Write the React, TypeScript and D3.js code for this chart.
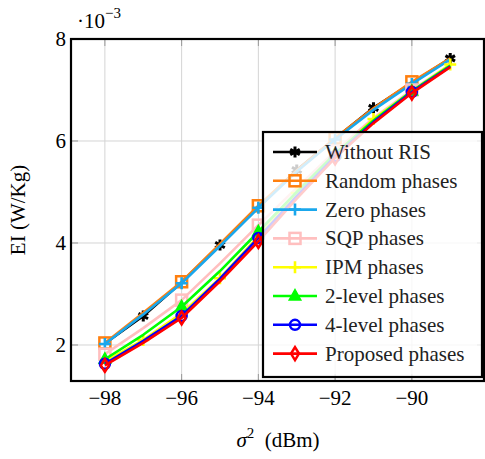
import React from "react";
import * as d3 from "d3";

// noise power sigma^2 (dBm)
const sigma = [-98, -97, -96, -95, -94, -93, -92, -91, -90, -89];

// EI values, in units of 1e-3 W/Kg
const withoutRIS = [2.03, 2.57, 3.23, 3.96, 4.7, 5.43, 6.05, 6.65, 7.14, 7.62];
const randomPhases = [2.04, 2.63, 3.24, 3.98, 4.73, 5.42, 6.06, 6.64, 7.16, 7.62];
const zeroPhases = [2.02, 2.6, 3.21, 3.94, 4.69, 5.4, 6.03, 6.61, 7.12, 7.6];
const sqpPhases = [1.82, 2.33, 2.88, 3.6, 4.35, 5.08, 5.8, 6.45, 7.0, 7.5];
const ipmPhases = [1.68, 2.1, 2.62, 3.31, 4.13, 4.98, 5.72, 6.43, 6.97, 7.5];
const level2Phases = [1.72, 2.2, 2.75, 3.45, 4.22, 5.0, 5.75, 6.4, 6.98, 7.48];
const level4Phases = [1.63, 2.08, 2.57, 3.3, 4.1, 4.92, 5.7, 6.37, 6.96, 7.46];
const proposedPhases = [1.6, 2.04, 2.53, 3.25, 4.03, 4.87, 5.67, 6.35, 6.94, 7.45];

const xTicks = [-98, -96, -94, -92, -90];
const yTicks = [2, 4, 6, 8];

type Mark = "asterisk" | "square" | "plus" | "triangle" | "circle" | "diamond";

const series: { name: string; values: number[]; color: string; mark: Mark; odd: boolean }[] = [
  { name: "Without RIS", values: withoutRIS, color: "#000000", mark: "asterisk", odd: true },
  { name: "Random phases", values: randomPhases, color: "#ff7f0e", mark: "square", odd: false },
  { name: "Zero phases", values: zeroPhases, color: "#1aa7ec", mark: "plus", odd: false },
  { name: "SQP phases", values: sqpPhases, color: "#ffbfbf", mark: "square", odd: false },
  { name: "IPM phases", values: ipmPhases, color: "#ffff00", mark: "plus", odd: true },
  { name: "2-level phases", values: level2Phases, color: "#00ff00", mark: "triangle", odd: false },
  { name: "4-level phases", values: level4Phases, color: "#0000ff", mark: "circle", odd: false },
  { name: "Proposed phases", values: proposedPhases, color: "#ff0000", mark: "diamond", odd: false },
];

const W = 485;
const H = 459;
const left = 71;
const right = 484;
const top = 39;
const bottom = 381;
const font = "Liberation Serif, DejaVu Serif, serif";

const x = d3.scaleLinear().domain([-98.883, -88.12]).range([left, right]);
const y = d3.scaleLinear().domain([1.294, 8]).range([bottom, top]);

const line = d3
  .line<number>()
  .x((d, i) => x(sigma[i]))
  .y((d) => y(d));

// asterisk: three crossing strokes
const asteriskPath = [0, 60, 120]
  .map((a) => {
    const r = 5.5;
    const dx = r * Math.sin((a * Math.PI) / 180);
    const dy = r * Math.cos((a * Math.PI) / 180);
    return `M${-dx},${-dy}L${dx},${dy}`;
  })
  .join("");

function Marker({ mark, color, cx, cy }: { mark: Mark; color: string; cx: number; cy: number }) {
  const t = `translate(${cx},${cy})`;
  if (mark === "asterisk") {
    return <path transform={t} d={asteriskPath} stroke={color} strokeWidth={3} fill="none" />;
  }
  if (mark === "square") {
    return <rect x={cx - 5.5} y={cy - 5.5} width={11} height={11} stroke={color} strokeWidth={2.5} fill="none" />;
  }
  if (mark === "plus") {
    return <path transform={t} d="M-6,0H6M0,-6V6" stroke={color} strokeWidth={2.6} fill="none" />;
  }
  if (mark === "triangle") {
    return <path transform={t} d="M0,-6.5L5.8,4L-5.8,4Z" stroke={color} strokeWidth={1.5} fill={color} />;
  }
  if (mark === "circle") {
    return <circle cx={cx} cy={cy} r={5} stroke={color} strokeWidth={2.5} fill="none" />;
  }
  return <path transform={t} d="M0,-6.5L4,0L0,6.5L-4,0Z" stroke={color} strokeWidth={2.5} fill="none" />;
}

export default function App() {
  const legX = 263;
  const legY = 132;
  const rowH = 28.8;

  return (
    <svg width={W} height={H} style={{ position: "absolute", left: 0, top: 0, fontFamily: font }}>
      <rect width={W} height={H} fill="#fff" />

      {/* grid */}
      {xTicks.map((t) => (
        <g key={"gx" + t}>
          <line x1={x(t)} x2={x(t)} y1={top} y2={bottom} stroke="#d4d4d4" strokeWidth={1} />
          <line x1={x(t)} x2={x(t)} y1={top} y2={top + 7} stroke="#999" strokeWidth={1} />
          <line x1={x(t)} x2={x(t)} y1={bottom} y2={bottom - 7} stroke="#999" strokeWidth={1} />
        </g>
      ))}
      {yTicks.map((t) => (
        <g key={"gy" + t}>
          <line x1={left} x2={right} y1={y(t)} y2={y(t)} stroke="#d4d4d4" strokeWidth={1} />
          <line x1={left} x2={left + 7} y1={y(t)} y2={y(t)} stroke="#999" strokeWidth={1} />
          <line x1={right} x2={right - 7} y1={y(t)} y2={y(t)} stroke="#999" strokeWidth={1} />
        </g>
      ))}

      {/* series */}
      {series.map((s) => (
        <g key={s.name}>
          <path d={line(s.values)!} stroke={s.color} strokeWidth={2.6} fill="none" strokeLinejoin="round" />
          {s.values.map((v, i) =>
            (i % 2 === 1) === s.odd ? (
              <Marker key={i} mark={s.mark} color={s.color} cx={x(sigma[i])} cy={y(v)} />
            ) : null
          )}
        </g>
      ))}

      {/* axis box */}
      <rect x={left} y={top} width={right - left} height={bottom - top} fill="none" stroke="#000" strokeWidth={2.2} />

      {/* tick labels */}
      {xTicks.map((t) => (
        <text key={"tx" + t} x={x(t)} y={405} textAnchor="middle" fontSize={21} style={{ fontFamily: font }}>
          {"\u2212" + Math.abs(t)}
        </text>
      ))}
      {yTicks.map((t) => (
        <text key={"ty" + t} x={66} y={y(t) + 7} textAnchor="end" fontSize={21} style={{ fontFamily: font }}>
          {t}
        </text>
      ))}
      <text x={77} y={28} fontSize={21} style={{ fontFamily: font }}>
        {"\u00b710"}
        <tspan fontSize={15} dy={-10}>
          {"\u22123"}
        </tspan>
      </text>

      {/* axis titles */}
      <text x={278} y={447} textAnchor="middle" fontSize={21} style={{ fontFamily: font }}>
        <tspan fontStyle="italic">σ</tspan>
        <tspan fontSize={15} dy={-9}>2</tspan>
        <tspan dy={9}>{"\u2002(dBm)"}</tspan>
      </text>
      <text transform="translate(25,210) rotate(-90)" textAnchor="middle" fontSize={21} style={{ fontFamily: font }}>
        EI (W/Kg)
      </text>

      {/* legend */}
      <rect x={legX} y={legY} width={219} height={245} fill="#fff" fillOpacity={0.8} stroke="#000" strokeWidth={2.2} />
      {series.map((s, i) => {
        const cy = legY + 20 + i * rowH;
        return (
          <g key={"leg" + s.name}>
            <line x1={legX + 10} x2={legX + 54} y1={cy} y2={cy} stroke={s.color} strokeWidth={2.6} />
            <Marker mark={s.mark} color={s.color} cx={legX + 32} cy={cy} />
            <text x={legX + 62} y={cy + 7} fontSize={21} fill="#222" style={{ fontFamily: font }}>
              {s.name}
            </text>
          </g>
        );
      })}
    </svg>
  );
}
